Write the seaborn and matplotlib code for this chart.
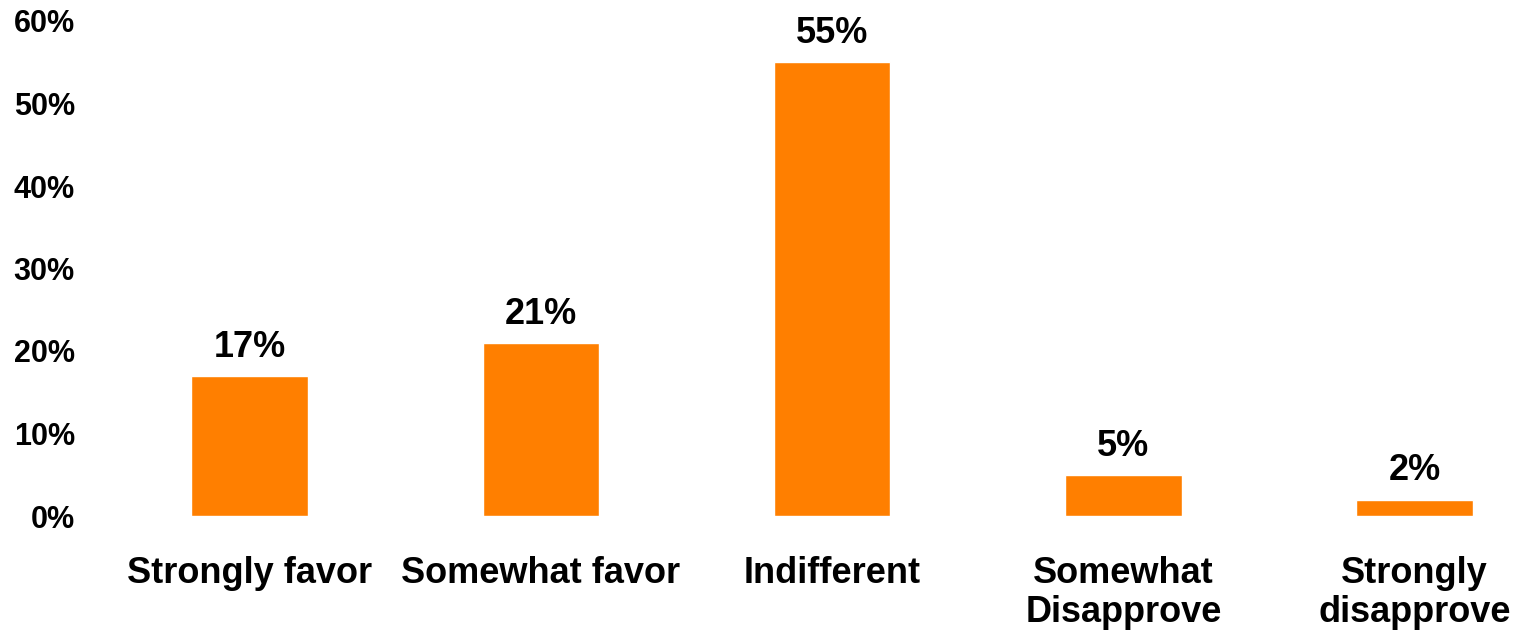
import matplotlib
matplotlib.use("Agg")
import matplotlib.pyplot as plt
import seaborn as sns
import pandas as pd

# --- DATOS ---
categorias = ["Strongly favor", "Somewhat favor", "Indifferent",
              "Somewhat\nDisapprove", "Strongly\ndisapprove"]
valores = [17, 21, 55, 5, 2]
etiquetas = ["17%", "21%", "55%", "5%", "2%"]
y_ticks = [0, 10, 20, 30, 40, 50, 60]

df = pd.DataFrame({"cat": categorias, "val": valores})

sns.set_style("white")
plt.rcParams["font.family"] = ["Liberation Sans", "DejaVu Sans"]
plt.rcParams["font.weight"] = "bold"
plt.rcParams["text.color"] = "black"
plt.rcParams["xtick.color"] = "black"
plt.rcParams["ytick.color"] = "black"

W, H = 1518, 638
fig = plt.figure(figsize=(W / 100, H / 100), dpi=100)
ax = fig.add_axes([104 / W, 122 / H, 1 - 104 / W, 495 / H])

sns.barplot(data=df, x="cat", y="val", color="#FF7F00", saturation=1,
            width=0.4, ax=ax)

# etiquetas de valor encima de cada barra
ax.bar_label(ax.containers[0], labels=etiquetas, padding=8,
             fontsize=26, fontweight="bold", color="black")

ax.set_ylim(0, 60)
ax.set_xlim(-0.5, (W - 104) / 291.25 - 0.5)
ax.set_yticks(y_ticks)
ax.set_yticklabels([f"{t}%" for t in y_ticks], fontsize=22, fontweight="bold")
ax.set_xticks(range(len(categorias)))
ax.set_xticklabels(categorias, fontsize=26, fontweight="bold", linespacing=1.12)
ax.tick_params(axis="y", length=0, pad=21, labelcolor="black")
ax.tick_params(axis="x", length=0, pad=29, labelcolor="black")
ax.set_xlabel("")
ax.set_ylabel("")
sns.despine(ax=ax, left=True, bottom=True)

fig.savefig("out.png", dpi=100)
